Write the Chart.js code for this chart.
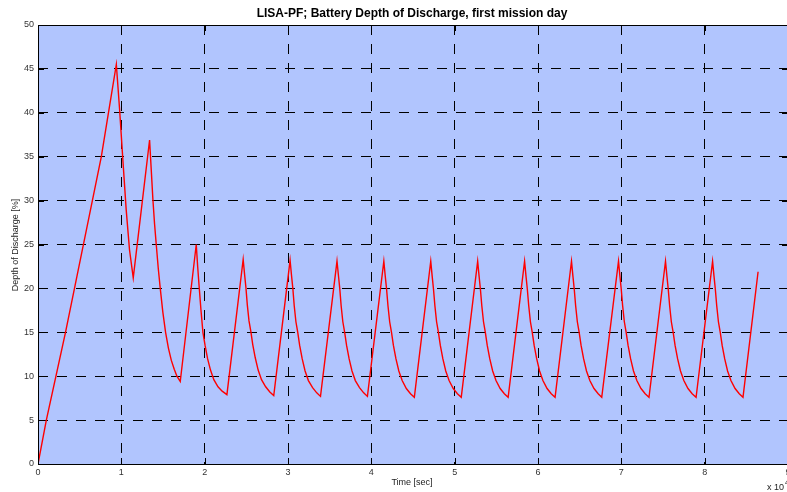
<!DOCTYPE html>
<html lang="en">
<head>
    <meta charset="UTF-8">
    <title>LISA-PF Battery Depth of Discharge</title>
    <script src="https://cdn.jsdelivr.net/npm/chart.js"></script>
    <style>
        body { margin: 0; background: #fff; overflow: hidden; }
        #wrap { width: 830px; height: 492px; }
    </style>
</head>
<body>
    <div id="wrap"><canvas id="dodChart" width="830" height="492"></canvas></div>
    <script>
        // time in units of 1e4 sec, depth of discharge in %
        const timeValues = [
            0.000, 0.100, 0.330, 0.620, 0.760, 0.940, 0.979, 1.018, 1.058, 1.098, 1.143,
            1.339, 1.359, 1.379, 1.399, 1.419, 1.443, 1.467, 1.498, 1.531, 1.565, 1.600, 1.635, 1.667, 1.707,
            1.899, 1.916, 1.933, 1.955, 1.979, 2.005, 2.035, 2.070, 2.110, 2.160, 2.210, 2.267,
            2.462, 2.479, 2.495, 2.512, 2.532, 2.554, 2.577, 2.607, 2.642, 2.682, 2.732, 2.782, 2.829,
            3.025, 3.042, 3.058, 3.075, 3.095, 3.117, 3.140, 3.170, 3.205, 3.245, 3.295, 3.345, 3.390,
            3.588, 3.605, 3.621, 3.638, 3.658, 3.680, 3.703, 3.733, 3.768, 3.808, 3.858, 3.908, 3.953,
            4.150, 4.167, 4.183, 4.200, 4.220, 4.242, 4.265, 4.295, 4.330, 4.370, 4.420, 4.470, 4.516,
            4.713, 4.730, 4.746, 4.763, 4.783, 4.805, 4.828, 4.858, 4.893, 4.933, 4.983, 5.033, 5.079,
            5.276, 5.293, 5.309, 5.326, 5.346, 5.368, 5.391, 5.421, 5.456, 5.496, 5.546, 5.596, 5.642,
            5.839, 5.856, 5.872, 5.889, 5.909, 5.931, 5.954, 5.984, 6.019, 6.059, 6.109, 6.159, 6.205,
            6.402, 6.419, 6.435, 6.452, 6.472, 6.494, 6.517, 6.547, 6.582, 6.622, 6.672, 6.722, 6.765,
            6.966, 6.983, 6.999, 7.016, 7.036, 7.058, 7.081, 7.111, 7.146, 7.186, 7.236, 7.286, 7.332,
            7.530, 7.547, 7.563, 7.580, 7.600, 7.622, 7.645, 7.675, 7.710, 7.750, 7.800, 7.850, 7.897,
            8.095, 8.112, 8.128, 8.145, 8.165, 8.187, 8.210, 8.240, 8.275, 8.315, 8.365, 8.415, 8.460,
            8.641
        ];
        const dodValues = [
            0.0, 5.0, 15.0, 28.5, 35.0, 45.5, 40.4, 34.7, 29.0, 24.4, 21.2,
            36.9, 33.5, 30.1, 27.3, 25.0, 22.3, 20.0, 17.3, 15.0, 13.2, 11.8, 10.8, 10.0, 9.4,
            25.0, 22.5, 20.3, 17.6, 15.0, 13.5, 12.0, 10.7, 9.6, 8.8, 8.3, 7.9,
            23.3, 21.6, 20.1, 18.1, 16.3, 15.1, 13.6, 12.1, 10.7, 9.6, 8.8, 8.2, 7.8,
            23.2, 21.5, 20.0, 18.0, 16.2, 15.0, 13.5, 12.0, 10.6, 9.5, 8.7, 8.1, 7.7,
            23.1, 21.5, 20.0, 18.0, 16.2, 15.0, 13.5, 12.0, 10.6, 9.5, 8.7, 8.1, 7.7,
            23.1, 21.4, 19.9, 18.0, 16.2, 15.0, 13.5, 12.0, 10.6, 9.5, 8.6, 8.0, 7.6,
            23.1, 21.4, 19.9, 18.0, 16.2, 15.0, 13.5, 12.0, 10.6, 9.5, 8.6, 8.0, 7.6,
            23.1, 21.4, 19.9, 18.0, 16.2, 15.0, 13.5, 12.0, 10.6, 9.5, 8.6, 8.0, 7.6,
            23.1, 21.4, 19.9, 18.0, 16.2, 15.0, 13.5, 12.0, 10.6, 9.5, 8.6, 8.0, 7.6,
            23.1, 21.4, 19.9, 18.0, 16.2, 15.0, 13.5, 12.0, 10.6, 9.5, 8.6, 8.0, 7.6,
            23.1, 21.4, 19.9, 18.0, 16.2, 15.0, 13.5, 12.0, 10.6, 9.5, 8.6, 8.0, 7.6,
            23.1, 21.4, 19.9, 18.0, 16.2, 15.0, 13.5, 12.0, 10.6, 9.5, 8.6, 8.0, 7.6,
            23.1, 21.4, 19.9, 18.0, 16.2, 15.0, 13.5, 12.0, 10.6, 9.5, 8.6, 8.0, 7.6,
            21.9
        ];
        const xTicks = [0, 1, 2, 3, 4, 5, 6, 7, 8, 9];
        const yTicks = [0, 5, 10, 15, 20, 25, 30, 35, 40, 45, 50];

        const chartTitle = 'LISA-PF; Battery Depth of Discharge, first mission day';
        const xTitle = 'Time [sec]';
        const yTitle = 'Depth of Discharge [%]';
        const fontFamily = "'Liberation Sans', Arial, sans-serif";

        // MATLAB-style axes: blue background, box, inward ticks, titles
        const matlabAxes = {
            id: 'matlabAxes',
            beforeDraw(chart) {
                const { ctx, chartArea: a } = chart;
                ctx.save();
                ctx.fillStyle = '#b1c5fe';
                ctx.fillRect(a.left, a.top, a.right - a.left, a.bottom - a.top);
                ctx.restore();
            },
            afterDraw(chart) {
                const { ctx, chartArea: a, scales } = chart;
                ctx.save();
                ctx.strokeStyle = '#000';
                ctx.lineWidth = 1;
                ctx.strokeRect(a.left + 0.5, a.top + 0.5, a.right - a.left, a.bottom - a.top);

                // inward tick marks
                ctx.beginPath();
                xTicks.forEach(v => {
                    const x = Math.round(scales.x.getPixelForValue(v)) + 0.5;
                    ctx.moveTo(x, a.bottom); ctx.lineTo(x, a.bottom - 6);
                    ctx.moveTo(x, a.top); ctx.lineTo(x, a.top + 6);
                });
                yTicks.forEach(v => {
                    const y = Math.round(scales.y.getPixelForValue(v)) + 0.5;
                    ctx.moveTo(a.left, y); ctx.lineTo(a.left + 6, y);
                    ctx.moveTo(a.right, y); ctx.lineTo(a.right - 6, y);
                });
                ctx.stroke();

                ctx.fillStyle = '#000';
                ctx.textAlign = 'center';
                ctx.textBaseline = 'middle';
                ctx.font = 'bold 12px ' + fontFamily;
                ctx.fillText(chartTitle, 412, 14);

                ctx.font = '9px ' + fontFamily;
                ctx.fillStyle = '#222';
                ctx.fillText(xTitle, 412, 483);

                ctx.save();
                ctx.translate(16, 245);
                ctx.rotate(-Math.PI / 2);
                ctx.fillText(yTitle, 0, 0);
                ctx.restore();

                ctx.textAlign = 'left';
                ctx.fillText('x 10', 767, 488);
                ctx.font = '7px ' + fontFamily;
                ctx.fillText('4', 785, 483);
                ctx.restore();
            }
        };

        const ctx = document.getElementById('dodChart').getContext('2d');
        new Chart(ctx, {
            type: 'line',
            data: {
                datasets: [{
                    label: 'Depth of Discharge',
                    data: timeValues.map((t, i) => ({ x: t, y: dodValues[i] })),
                    borderColor: '#ff0000',
                    borderWidth: 1.4,
                    pointRadius: 0,
                    tension: 0,
                    fill: false
                }]
            },
            options: {
                responsive: false,
                animation: false,
                layout: { padding: { top: 25, right: 42, bottom: 0, left: 0 } },
                plugins: {
                    legend: { display: false },
                    title: { display: false },
                    tooltip: { enabled: false }
                },
                scales: {
                    x: {
                        type: 'linear',
                        min: 0,
                        max: 9,
                        afterFit(scale) { scale.height = 28; },
                        afterBuildTicks(scale) { scale.ticks = xTicks.map(v => ({ value: v })); },
                        ticks: {
                            padding: 3,
                            color: '#333',
                            font: { family: fontFamily, size: 9 },
                            maxRotation: 0
                        },
                        grid: { color: '#000', lineWidth: 1, drawTicks: false },
                        border: { display: false, dash: [10, 9] }
                    },
                    y: {
                        min: 0,
                        max: 50,
                        afterFit(scale) { scale.width = 38; },
                        afterBuildTicks(scale) { scale.ticks = yTicks.map(v => ({ value: v })); },
                        ticks: {
                            padding: 4,
                            color: '#333',
                            font: { family: fontFamily, size: 9 }
                        },
                        grid: { color: '#000', lineWidth: 1, drawTicks: false },
                        border: { display: false, dash: [10, 9] }
                    }
                }
            },
            plugins: [matlabAxes]
        });
    </script>
</body>
</html>
